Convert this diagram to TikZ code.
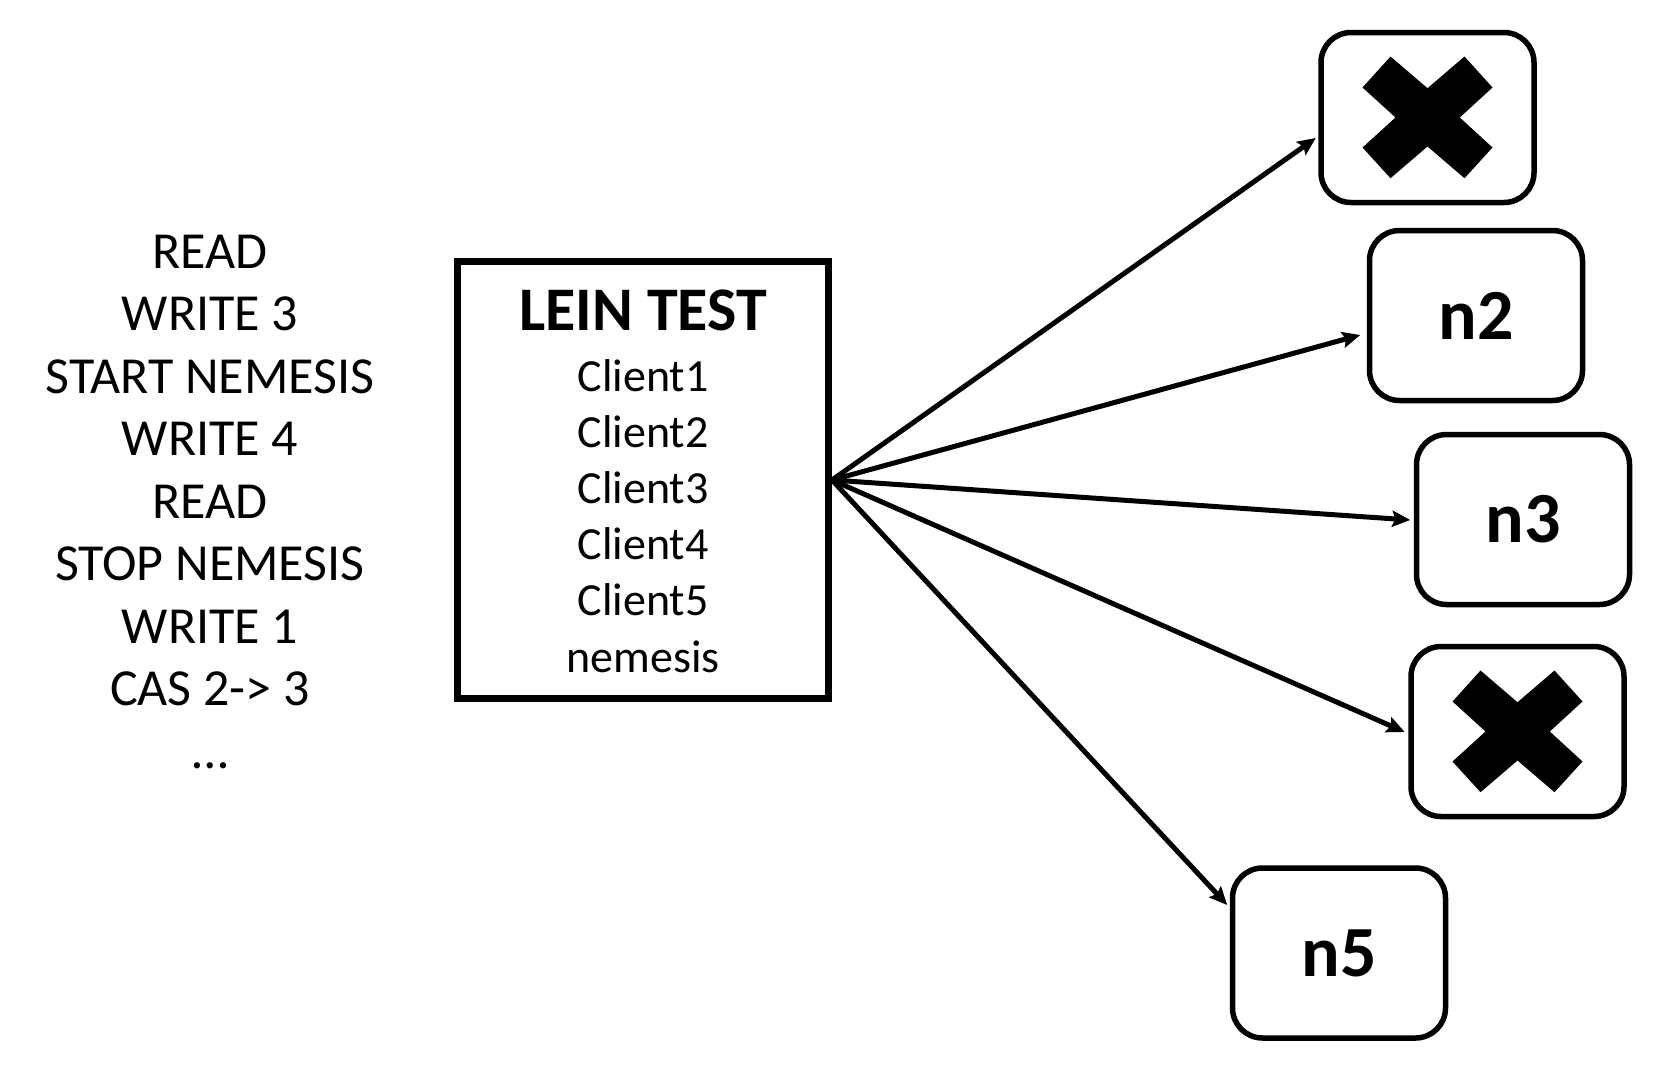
\documentclass[tikz,border=0pt]{standalone}
\usepackage{fontspec}
\setmainfont{Carlito}
\usetikzlibrary{arrows.meta,calc}
\begin{document}
\begin{tikzpicture}[x=1pt,y=-1pt,
  nodebox/.style={draw, line width=5.5pt, rounded corners=30pt, minimum width=213pt, minimum height=170pt, inner sep=0pt, font=\fontsize{72}{86}\selectfont\bfseries},
  cmd/.style={anchor=base, inner sep=0pt, font=\fontsize{52}{62}\selectfont},
  cli/.style={anchor=base, inner sep=0pt, font=\fontsize{46}{56}\selectfont},
  ttl/.style={anchor=base, inner sep=0pt, font=\fontsize{62}{74}\selectfont\bfseries},
  conn/.style={line width=5pt, -{Stealth[length=18pt,width=16pt,inset=3pt]}},
  xshape/.style={fill=black}]
\useasboundingbox (0,0) rectangle (1668,1066);

% command list
\foreach \t [count=\i from 0] in {READ, WRITE 3, START NEMESIS, WRITE 4, READ, STOP NEMESIS, WRITE 1, CAS 2-> 3, …}
  \node[cmd] (cmd\i) at (210, 268+62.5*\i) {\t};

% lein test box
\node[draw, line width=7pt, minimum width=371pt, minimum height=437pt, inner sep=0pt] (lein) at (643,480) {};
\node[ttl] (title) at (643,330) {LEIN TEST};
\foreach \c [count=\i from 0] in {Client1, Client2, Client3, Client4, Client5, nemesis}
  \node[cli] (cl\i) at (643, 391+56.2*\i) {\c};

% node boxes
\node[nodebox] (b1) at (1427.5,117.5) {};
\node[nodebox] (n2) at (1476,315.5) {n2};
\node[nodebox] (n3) at (1523,519.5) {n3};
\node[nodebox] (b4) at (1517.5,731.5) {};
\node[nodebox] (n5) at (1339,953) {n5};

% crosses
\foreach \b in {b1,b4}
  \fill[xshape, shift={(\b.center)}] (-65,-30) -- (-37,-61) -- (0,-29.3) -- (37,-61) -- (65,-30) -- (32.3,0)
     -- (65,30) -- (37,60.7) -- (0,29) -- (-37,60.7) -- (-65,30) -- (-32,0) -- cycle;

% arrow ends
\coordinate (t1) at ($(b1.west)+(-2.5,20.5)$);
\coordinate (t2) at ($(n2.west)+(-6.5,19.5)$);
\coordinate (t3) at ($(n3.west)+(-3.5,0.5)$);
\coordinate (t4) at ($(b4.west)+(-3.5,0.5)$);
\coordinate (t5) at ($(n5.west)+(-2.5,-48)$);

\foreach \t in {t1,t2,t3,t4,t5}
  \draw[conn] (lein.east) -- (\t);
\end{tikzpicture}
\end{document}
